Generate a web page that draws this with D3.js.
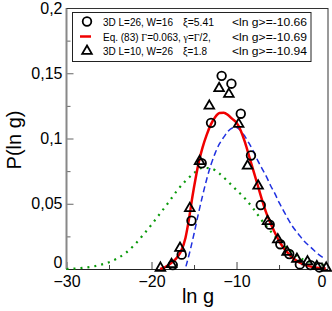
<!DOCTYPE html>
<html>
<head>
<meta charset="utf-8">
<script src="https://cdn.jsdelivr.net/npm/d3@7"></script>
<style>
  body { margin: 0; background: #fff; }
  text { font-family: "Liberation Sans", Arial, sans-serif; }
</style>
</head>
<body>
<div id="chart-area"></div>
<script>
// 3D L=26, W=16 (circles)
let circleX = [-17.5, -16.45, -15.3, -14.1, -13.0, -11.75, -10.6, -9.5, -8.3, -7.15, -6.1, -4.85, -3.8, -2.55, -1.3, -0.25];
let circleY = [0.003, 0.011, 0.037, 0.081, 0.112, 0.148, 0.142, 0.119, 0.087, 0.049, 0.034, 0.019, 0.0115, 0.0035, 0.003, 0.0012];

// 3D L=10, W=26 (triangles)
let triX = [-18.95, -17.65, -16.65, -15.5, -14.35, -13.2, -12.05, -10.9, -9.75, -8.7, -7.46, -6.35, -5.15, -4.05, -2.9, -1.65, -0.55, 0.55];
let triY = [0.0008, 0.0036, 0.016, 0.0465, 0.0825, 0.125, 0.1385, 0.134, 0.111, 0.079, 0.0637, 0.0365, 0.0226, 0.013, 0.0076, 0.0056, 0.002, 0.0008];

// Eq. (83) curve (red)
let eqX = [-19.0, -18.5, -18.0, -17.5, -17.0, -16.5, -16.0, -15.6, -15.2, -14.8, -14.4, -14.0, -13.5, -13.0, -12.5, -12.0, -11.5, -11.0, -10.5, -10.0, -9.5, -9.0, -8.5, -8.0, -7.5, -7.0, -6.5, -6.0, -5.5, -5.0, -4.5, -4.0, -3.5, -3.0, -2.5, -2.0, -1.5, -1.0, -0.5, 0.0, 0.5];
let eqY = [0.0, 0.001, 0.003, 0.0055, 0.0088, 0.014, 0.024, 0.038, 0.055, 0.070, 0.083, 0.093, 0.103, 0.111, 0.1165, 0.1195, 0.1198, 0.118, 0.115, 0.112, 0.106, 0.097, 0.086, 0.075, 0.064, 0.053, 0.043, 0.035, 0.028, 0.0215, 0.0165, 0.0125, 0.0092, 0.0066, 0.0046, 0.0032, 0.0022, 0.0014, 0.0009, 0.0005, 0.0003];

// blue dashed curve
let blueX = [-15.95, -15.5, -15.0, -14.5, -14.0, -13.5, -13.0, -12.5, -12.0, -11.5, -11.0, -10.5, -10.0, -9.5, -9.0, -8.5, -8.0, -7.5, -7.0, -6.5, -6.0, -5.5, -5.0, -4.5, -4.0, -3.5, -3.0, -2.5, -2.0, -1.5, -1.0, -0.5, 0.0, 0.2];
let blueY = [0.002, 0.013, 0.027, 0.042, 0.056, 0.069, 0.080, 0.089, 0.096, 0.101, 0.1055, 0.108, 0.1085, 0.106, 0.1015, 0.096, 0.090, 0.083, 0.077, 0.071, 0.064, 0.058, 0.051, 0.045, 0.039, 0.0335, 0.029, 0.025, 0.021, 0.018, 0.015, 0.012, 0.0095, 0.0087];

// green dotted curve
let greenX = [-30, -29, -28, -27, -26, -25, -24, -23, -22, -21, -20, -19, -18, -17, -16, -15, -14, -13, -12, -11, -10, -9, -8, -7, -6, -5, -4, -3, -2, -1, 0, 0.5];
let greenY = [0.0, 0.0003, 0.0009, 0.0018, 0.0032, 0.0052, 0.0082, 0.0125, 0.0185, 0.026, 0.034, 0.0425, 0.051, 0.060, 0.0675, 0.0735, 0.0775, 0.077, 0.073, 0.067, 0.0605, 0.054, 0.046, 0.037, 0.029, 0.0215, 0.0155, 0.0105, 0.0068, 0.0048, 0.0035, 0.003];

// ticks
let xTicks = [-30, -20, -10, 0];
let xMinorTicks = [-25, -15, -5];
let yTicks = [0, 0.05, 0.1, 0.15, 0.2];
let yMinorTicks = [0.025, 0.075, 0.125, 0.175];

let legendCol1 = ['3D L=26, W=16', 'Eq. (83) ', '3D L=10, W=26'];
let legendXi = ['ξ=5.41', '', 'ξ=1.8'];
let legendMean = ['<ln g>=-10.66', '<ln g>=-10.69', '<ln g>=-10.94'];

let svgWidth = 332, svgHeight = 311;
let plotLeft = 66.5, plotRight = 328, plotTop = 8, plotBottom = 269;

let svg = d3.select('#chart-area')
    .append('svg')
        .attr('width', svgWidth)
        .attr('height', svgHeight);

let x = d3.scaleLinear().domain([-30, 0.76]).range([plotLeft, plotRight]);
let y = d3.scaleLinear().domain([0, 0.2]).range([plotBottom, plotTop]);

let fmt = function(d) { return String(d).replace('.', ','); };

// y axis
let yAxis = svg.append('g')
    .attr('transform', 'translate(' + plotLeft + ',0)')
    .call(d3.axisLeft(y).tickValues(yTicks).tickSize(-7).tickPadding(4).tickFormat(fmt));
yAxis.select('.domain').remove();
yAxis.selectAll('text').attr('font-size', '16px').attr('font-family', '"Liberation Sans", Arial, sans-serif').attr('fill', '#000');
yAxis.selectAll('line').attr('stroke', '#666');
// the "0" label sits just above the "-30" one
yAxis.selectAll('text').filter(function(d) { return d === 0; }).attr('dy', '-0.12em');
let yMinor = svg.append('g')
    .attr('transform', 'translate(' + plotLeft + ',0)')
    .call(d3.axisLeft(y).tickValues(yMinorTicks).tickSize(-4).tickFormat(''));
yMinor.select('.domain').remove();
yMinor.selectAll('line').attr('stroke', '#666');

// x axis
let xAxis = svg.append('g')
    .attr('transform', 'translate(0,' + plotBottom + ')')
    .call(d3.axisBottom(x).tickValues(xTicks).tickSize(-7).tickPadding(7).tickFormat(d3.format('d')));
xAxis.select('.domain').remove();
xAxis.selectAll('text').attr('font-size', '16px').attr('font-family', '"Liberation Sans", Arial, sans-serif').attr('fill', '#000');
xAxis.selectAll('line').attr('stroke', '#444');
let xMinor = svg.append('g')
    .attr('transform', 'translate(0,' + plotBottom + ')')
    .call(d3.axisBottom(x).tickValues(xMinorTicks).tickSize(-4).tickFormat(''));
xMinor.select('.domain').remove();
xMinor.selectAll('line').attr('stroke', '#444');

// frame
svg.append('line').attr('x1', plotLeft).attr('x2', plotLeft).attr('y1', plotTop).attr('y2', plotBottom)
    .attr('stroke', '#888').attr('stroke-width', 2);
svg.append('line').attr('x1', plotRight).attr('x2', plotRight).attr('y1', plotTop).attr('y2', plotBottom)
    .attr('stroke', '#999').attr('stroke-width', 2);
svg.append('line').attr('x1', plotLeft).attr('x2', plotRight).attr('y1', plotTop + 0.5).attr('y2', plotTop + 0.5)
    .attr('stroke', '#333').attr('stroke-width', 1);
svg.append('line').attr('x1', plotLeft).attr('x2', plotRight).attr('y1', plotBottom + 0.5).attr('y2', plotBottom + 0.5)
    .attr('stroke', '#222').attr('stroke-width', 1);

// axis titles
svg.append('text')
    .attr('x', 198).attr('y', 303)
    .attr('font-size', '20px')
    .attr('text-anchor', 'middle')
    .text('ln g');
svg.append('text')
    .attr('transform', 'rotate(-90)')
    .attr('x', -140).attr('y', 21)
    .attr('font-size', '20px')
    .attr('text-anchor', 'middle')
    .text('P(ln g)');

// curves
let plot = svg.append('g');
let line = d3.line()
    .x(function(d) { return x(d[0]); })
    .y(function(d) { return y(d[1]); })
    .curve(d3.curveMonotoneX);

plot.append('path')
    .datum(d3.zip(greenX, greenY))
    .attr('d', line)
    .attr('fill', 'none')
    .attr('stroke', '#0a9a0a')
    .attr('stroke-width', 2.2)
    .attr('stroke-dasharray', '2,5');

plot.append('path')
    .datum(d3.zip(blueX, blueY))
    .attr('d', line)
    .attr('fill', 'none')
    .attr('stroke', '#1f30e0')
    .attr('stroke-width', 1.5)
    .attr('stroke-dasharray', '6,3.5');

plot.append('path')
    .datum(d3.zip(eqX, eqY))
    .attr('d', line)
    .attr('fill', 'none')
    .attr('stroke', '#f00000')
    .attr('stroke-width', 2.5);

// markers
plot.selectAll('circle.pt')
    .data(d3.zip(circleX, circleY))
    .enter()
    .append('circle')
        .attr('class', 'pt')
        .attr('cx', function(d) { return x(d[0]); })
        .attr('cy', function(d) { return y(d[1]); })
        .attr('r', 4.3)
        .attr('fill', 'none')
        .attr('stroke', '#000')
        .attr('stroke-width', 1.8);

let tri = d3.symbol().type(d3.symbolTriangle).size(40);
plot.selectAll('path.tri')
    .data(d3.zip(triX, triY))
    .enter()
    .append('path')
        .attr('class', 'tri')
        .attr('d', tri)
        .attr('transform', function(d) { return 'translate(' + x(d[0]) + ',' + y(d[1]) + ')'; })
        .attr('fill', 'none')
        .attr('stroke', '#000')
        .attr('stroke-width', 1.8);

// legend
let legend = svg.append('g');
legend.append('rect')
    .attr('x', 72.5).attr('y', 12.5)
    .attr('width', 238.5).attr('height', 49)
    .attr('fill', '#fff')
    .attr('stroke', '#222')
    .attr('stroke-width', 1);

let rowY = [21.5, 36.5, 51];
legend.append('circle')
    .attr('cx', 87).attr('cy', rowY[0]).attr('r', 4.3)
    .attr('fill', 'none').attr('stroke', '#000').attr('stroke-width', 1.8);
legend.append('line')
    .attr('x1', 80).attr('x2', 91).attr('y1', rowY[1]).attr('y2', rowY[1])
    .attr('stroke', '#f00000').attr('stroke-width', 2.5);
legend.append('path')
    .attr('d', tri)
    .attr('transform', 'translate(87,' + rowY[2] + ')')
    .attr('fill', 'none').attr('stroke', '#000').attr('stroke-width', 1.8);

let col1Len = [70, 0, 70];
let xiLen = [31, 0, 24];
legendCol1.forEach(function(label, i) {
    let t = legend.append('text')
        .attr('x', 103).attr('y', rowY[i] + 4)
        .attr('font-size', '11px')
        .text(label);
    if (i == 1) {
        // the equation row holds Greek letters in a serif face
        t.attr('font-size', '10px');
        t.append('tspan').attr('font-family', '"Liberation Serif", serif').text('Γ');
        t.append('tspan').text('=0.063, ');
        t.append('tspan').attr('font-family', '"Liberation Serif", serif').text('γ');
        t.append('tspan').text('=');
        t.append('tspan').attr('font-family', '"Liberation Serif", serif').text('Γ');
        t.append('tspan').text('/2,');
    } else {
        t.attr('textLength', col1Len[i]).attr('lengthAdjust', 'spacingAndGlyphs');
    }
    if (legendXi[i]) {
        legend.append('text')
            .attr('x', 183).attr('y', rowY[i] + 4)
            .attr('font-size', '11px')
            .attr('textLength', xiLen[i])
            .attr('lengthAdjust', 'spacingAndGlyphs')
            .text(legendXi[i]);
    }
    legend.append('text')
        .attr('x', 232).attr('y', rowY[i] + 4)
        .attr('font-size', '11px')
        .attr('textLength', 75)
        .attr('lengthAdjust', 'spacingAndGlyphs')
        .text(legendMean[i]);
});
</script>
</body>
</html>
